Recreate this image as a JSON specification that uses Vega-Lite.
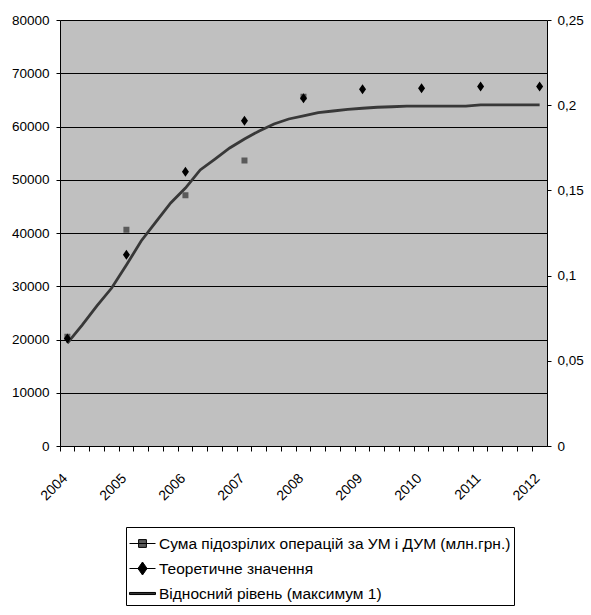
{
  "$schema": "https://vega.github.io/schema/vega-lite/v6.json",
  "width": 487,
  "height": 426,
  "autosize": {"type": "none"},
  "padding": {"left": 60, "top": 20, "right": 44, "bottom": 169},
  "background": "white",
  "config": {
    "font": "Liberation Sans",
    "view": {"fill": "#C0C0C0", "stroke": null},
    "axis": {
      "labelFont": "Liberation Sans",
      "labelFontSize": 13.5,
      "labelColor": "#000000",
      "domainColor": "#000000",
      "tickColor": "#000000",
      "gridColor": "#000000",
      "gridWidth": 1
    }
  },
  "layer": [
    {
      "data": {
        "values": [
          {"quarter": "2004 I", "level": 0.0604},
          {"quarter": "2004 II", "level": 0.0710},
          {"quarter": "2004 III", "level": 0.0822},
          {"quarter": "2004 IV", "level": 0.0927},
          {"quarter": "2005 I", "level": 0.1062},
          {"quarter": "2005 II", "level": 0.1203},
          {"quarter": "2005 III", "level": 0.1315},
          {"quarter": "2005 IV", "level": 0.1426},
          {"quarter": "2006 I", "level": 0.1514},
          {"quarter": "2006 II", "level": 0.1620},
          {"quarter": "2006 III", "level": 0.1684},
          {"quarter": "2006 IV", "level": 0.1749},
          {"quarter": "2007 I", "level": 0.1802},
          {"quarter": "2007 II", "level": 0.1849},
          {"quarter": "2007 III", "level": 0.1890},
          {"quarter": "2007 IV", "level": 0.1919},
          {"quarter": "2008 I", "level": 0.1937},
          {"quarter": "2008 II", "level": 0.1957},
          {"quarter": "2008 III", "level": 0.1966},
          {"quarter": "2008 IV", "level": 0.1975},
          {"quarter": "2009 I", "level": 0.1982},
          {"quarter": "2009 II", "level": 0.1988},
          {"quarter": "2009 III", "level": 0.1991},
          {"quarter": "2009 IV", "level": 0.1994},
          {"quarter": "2010 I", "level": 0.1995},
          {"quarter": "2010 II", "level": 0.1995},
          {"quarter": "2010 III", "level": 0.1995},
          {"quarter": "2010 IV", "level": 0.1995},
          {"quarter": "2011 I", "level": 0.2002},
          {"quarter": "2011 II", "level": 0.2002},
          {"quarter": "2011 III", "level": 0.2002},
          {"quarter": "2011 IV", "level": 0.2002},
          {"quarter": "2012 I", "level": 0.2002}
        ]
      },
      "mark": {"type": "line", "stroke": "#383838", "strokeWidth": 2.8},
      "encoding": {
        "x": {
          "field": "quarter",
          "type": "ordinal",
          "scale": {"type": "band", "paddingInner": 0, "paddingOuter": 0},
          "axis": {
            "title": null,
            "bandPosition": 0,
            "tickSize": 5,
            "labelOffset": -2,
            "labelFontSize": 14,
            "labelOverlap": false,
            "labelAngle": -45,
            "labelAlign": "right",
            "labelBaseline": "middle",
            "labelPadding": 25,
            "labelExpr": "slice(datum.value, 5) == 'I' ? slice(datum.value, 0, 4) : ''"
          }
        },
        "y": {
          "field": "level",
          "type": "quantitative",
          "scale": {"domain": [0, 0.25], "nice": false},
          "axis": {
            "orient": "right",
            "title": null,
            "grid": false,
            "values": [0, 0.05, 0.1, 0.15, 0.2, 0.25],
            "format": "~g",
            "labelExpr": "replace(datum.label, '.', ',')",
            "tickSize": 4,
            "labelPadding": 6
          }
        }
      }
    },
    {
      "data": {
        "values": [
          {"quarter": "2004 I", "series": "Сума підозрілих операцій за УМ і ДУМ (млн.грн.)", "value": 20500},
          {"quarter": "2005 I", "series": "Сума підозрілих операцій за УМ і ДУМ (млн.грн.)", "value": 40600},
          {"quarter": "2006 I", "series": "Сума підозрілих операцій за УМ і ДУМ (млн.грн.)", "value": 47100},
          {"quarter": "2007 I", "series": "Сума підозрілих операцій за УМ і ДУМ (млн.грн.)", "value": 53600},
          {"quarter": "2008 I", "series": "Сума підозрілих операцій за УМ і ДУМ (млн.грн.)", "value": 65600},
          {"quarter": "2004 I", "series": "Теоретичне значення", "value": 20200},
          {"quarter": "2005 I", "series": "Теоретичне значення", "value": 35900},
          {"quarter": "2006 I", "series": "Теоретичне значення", "value": 51500},
          {"quarter": "2007 I", "series": "Теоретичне значення", "value": 61100},
          {"quarter": "2008 I", "series": "Теоретичне значення", "value": 65300},
          {"quarter": "2009 I", "series": "Теоретичне значення", "value": 67000},
          {"quarter": "2010 I", "series": "Теоретичне значення", "value": 67200},
          {"quarter": "2011 I", "series": "Теоретичне значення", "value": 67500},
          {"quarter": "2012 I", "series": "Теоретичне значення", "value": 67500}
        ]
      },
      "mark": {"type": "point", "filled": true, "opacity": 1, "size": 400},
      "encoding": {
        "x": {"field": "quarter", "type": "ordinal"},
        "y": {
          "field": "value",
          "type": "quantitative",
          "scale": {"domain": [0, 80000], "nice": false},
          "axis": {
            "orient": "left",
            "title": null,
            "grid": true,
            "values": [0, 10000, 20000, 30000, 40000, 50000, 60000, 70000, 80000],
            "format": "d",
            "tickSize": 4,
            "labelPadding": 7
          }
        },
        "color": {
          "field": "series",
          "type": "nominal",
          "scale": {
            "domain": ["Сума підозрілих операцій за УМ і ДУМ (млн.грн.)", "Теоретичне значення", "Відносний рівень (максимум 1)"],
            "range": ["#5a5a5a", "#000000", "#333333"]
          },
          "legend": {
            "title": null,
            "orient": "none",
            "legendX": 66,
            "legendY": 507,
            "fillColor": "white",
            "strokeColor": "#000000",
            "padding": 3,
            "rowPadding": 3,
            "symbolSize": 676,
            "symbolStrokeColor": "#000000",
            "symbolStrokeWidth": 1,
            "labelOffset": 3,
            "labelFont": "Liberation Sans",
            "labelFontSize": 15.5,
            "labelColor": "#000000",
            "labelLimit": 420
          }
        },
        "shape": {
          "field": "series",
          "type": "nominal",
          "scale": {
            "domain": ["Сума підозрілих операцій за УМ і ДУМ (млн.грн.)", "Теоретичне значення", "Відносний рівень (максимум 1)"],
            "range": ["M-1,0H1M-0.3,-0.3H0.3V0.3H-0.3Z", "M-1,0H1M0,-0.5L0.35,0L0,0.5L-0.35,0Z", "M-1,-0.08H1V0.08H-1Z"]
          },
          "legend": null
        }
      }
    }
  ],
  "resolve": {"scale": {"y": "independent"}}
}
